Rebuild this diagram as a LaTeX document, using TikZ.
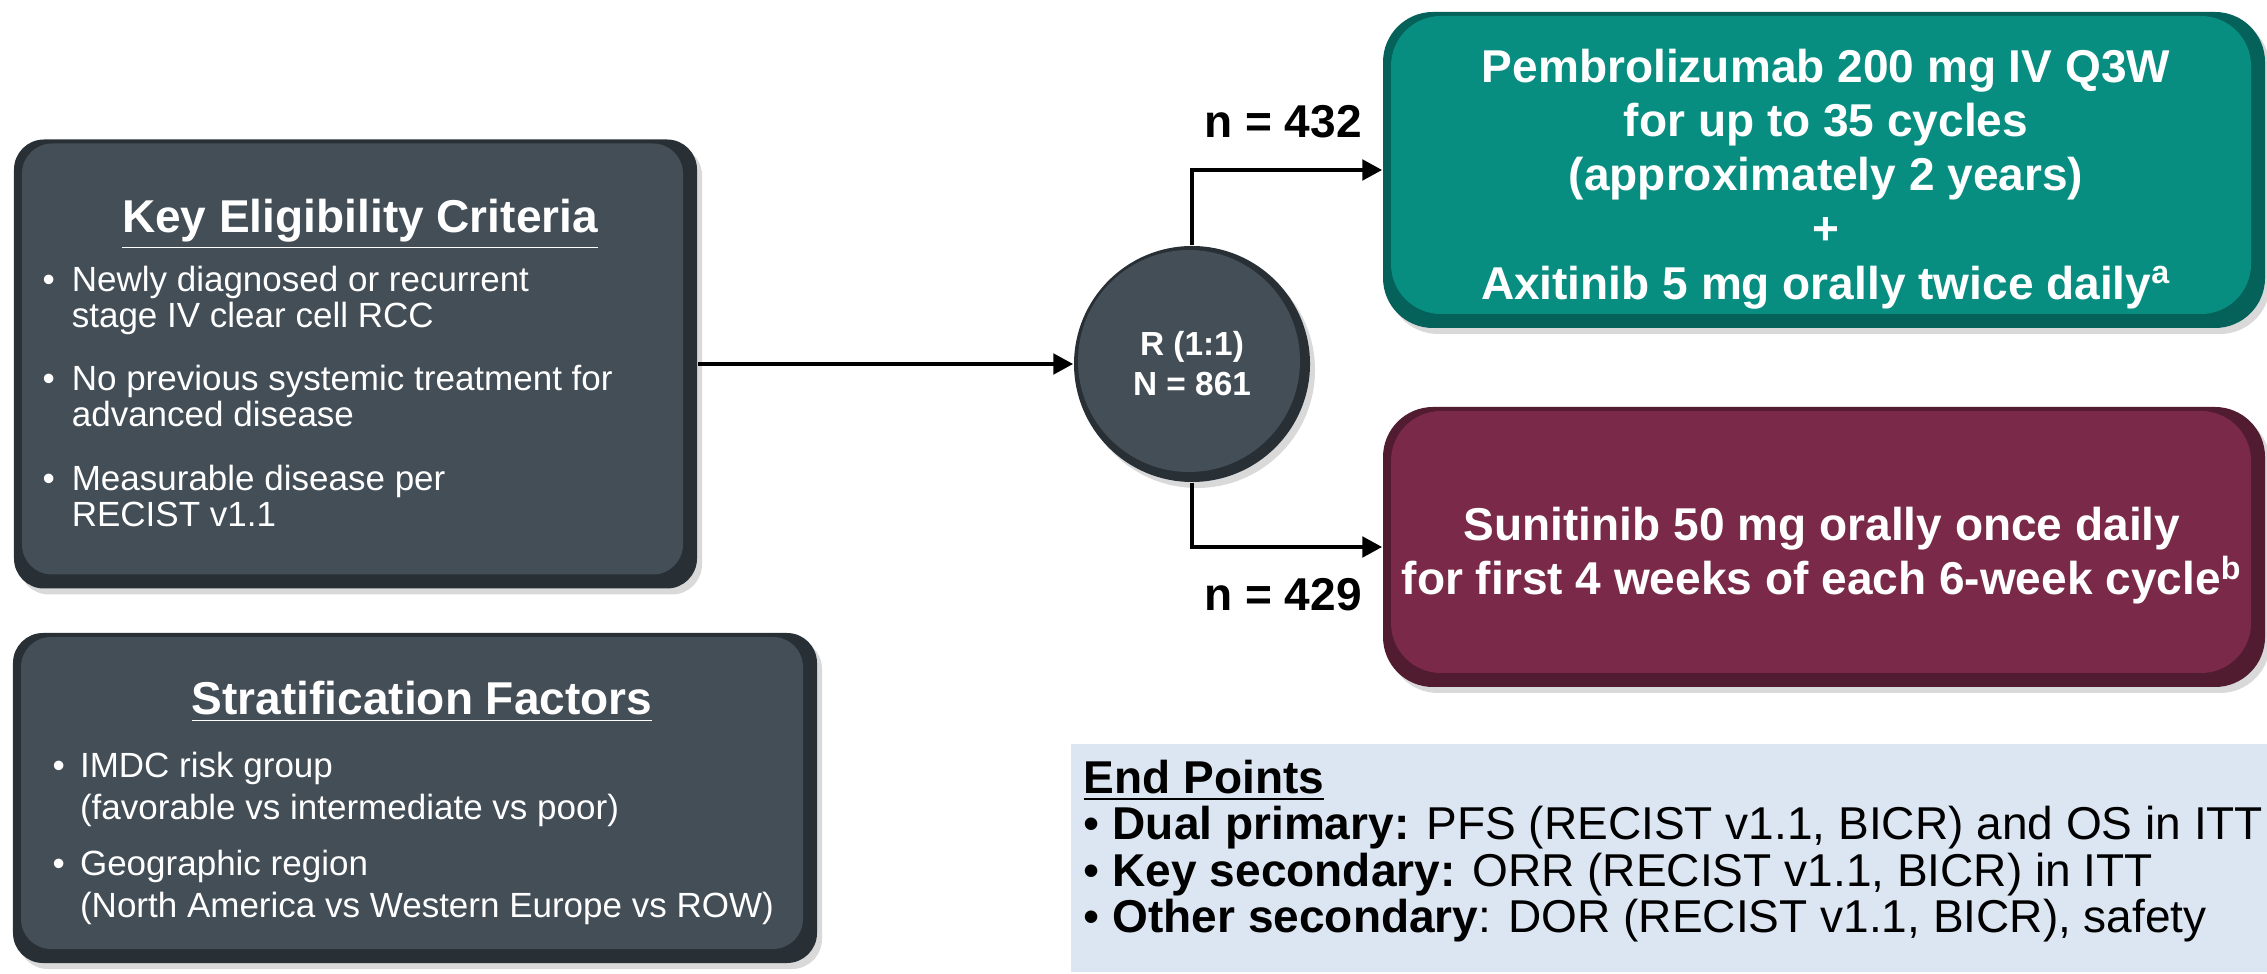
\documentclass[tikz,border=0pt]{standalone}
\usepackage{fontspec}
\setmainfont{Liberation Sans}
\usepackage{tikz}
\usetikzlibrary{arrows.meta,positioning,calc,shadows}
\definecolor{Slate}{HTML}{434E57}
\definecolor{SlateEdge}{HTML}{283036}
\definecolor{Teal}{HTML}{078E80}
\definecolor{TealEdge}{HTML}{05625A}
\definecolor{Wine}{HTML}{7A2A48}
\definecolor{WineEdge}{HTML}{511B30}
\definecolor{Ice}{HTML}{DCE6F2}

\begin{document}
\begin{tikzpicture}[>={Triangle[length=0.2cm,width=0.2cm]},
  panel/.style 2 args={rectangle,rounded corners=#2,fill=#1Edge,inner sep=0pt,
    drop shadow={opacity=0.3,shadow xshift=0.05cm,shadow yshift=-0.06cm},
    path picture={\fill[#1,rounded corners=#2] ([shift={(0.08,-0.04)}]path picture bounding box.north west)
      rectangle ([shift={(-0.14,0.14)}]path picture bounding box.south east);}},
  hub/.style={circle,fill=SlateEdge,minimum size=2.36cm,inner sep=0pt,text=white,align=center,
    font=\fontsize{9.5}{11.4}\selectfont\bfseries,
    drop shadow={opacity=0.3,shadow xshift=0.05cm,shadow yshift=-0.06cm},
    path picture={\fill[Slate] ([shift={(-0.03,0.03)}]path picture bounding box.center) circle (1.11cm);}},
  boxhead/.style={anchor=base,text=white,font=\fontsize{13.1}{15}\selectfont\bfseries},
  armtext/.style={text=white,align=center,inner sep=0pt,font=\fontsize{13.1}{15.4}\selectfont\bfseries},
  nlab/.style={font=\fontsize{13.1}{15}\selectfont\bfseries},
  flow/.style={->,line width=1.4pt}]
  \useasboundingbox (0,0) rectangle (22.67,9.73);

  % left panels
  \node[panel={Slate}{0.3cm},minimum width=6.83cm,minimum height=4.49cm] (elig) at (3.555,6.09) {};
  \node[boxhead] (eligT) at (3.60,7.40) {\underline{Key Eligibility Criteria}};
  \node[anchor=north west,inner sep=0pt,text=white,font=\fontsize{9.96}{10.2}\selectfont] (eligL) at (0.42,7.075) {%
    \begin{tabular}{@{}l@{\hspace{4.8pt}}l@{}}
    \textbullet & Newly diagnosed or recurrent\\
     & stage IV clear cell RCC\\[7.7pt]
    \textbullet & No previous systemic treatment for\\
     & advanced disease\\[7.7pt]
    \textbullet & Measurable disease per\\
     & RECIST v1.1
    \end{tabular}};

  \node[panel={Slate}{0.3cm},minimum width=8.04cm,minimum height=3.30cm] (strat) at (4.15,1.75) {};
  \node[boxhead] (stratT) at (4.22,2.58) {\underline{Stratification Factors}};
  \node[anchor=north west,inner sep=0pt,text=white,font=\fontsize{9.96}{11.95}\selectfont] (stratL) at (0.52,2.254) {%
    \begin{tabular}{@{}l@{\hspace{4.3pt}}l@{}}
    \textbullet & IMDC risk group\\
     & (favorable vs intermediate vs poor)\\[4pt]
    \textbullet & Geographic region\\
     & (North America vs Western Europe vs ROW)
    \end{tabular}};

  % randomisation and arms
  \node[hub] (rand) at (11.92,6.09) {R (1:1)\\N = 861};
  \node[panel={Teal}{0.5cm},minimum width=8.82cm,minimum height=3.16cm] (pembro) at (18.24,8.03) {};
  \node[armtext] (pembroT) at (18.26,7.94)
    {Pembrolizumab 200 mg IV Q3W\\for up to 35 cycles\\(approximately 2 years)\\+\\Axitinib 5 mg orally twice daily\textsuperscript{a}};
  \node[panel={Wine}{0.5cm},minimum width=8.82cm,minimum height=2.80cm] (suni) at (18.24,4.26) {};
  \node[armtext] (suniT) at (18.22,4.17)
    {Sunitinib 50 mg orally once daily\\for first 4 weeks of each 6-week cycle\textsuperscript{b}};

  \draw[flow] (elig) -- (rand);
  \draw[flow] (rand) |- (pembro);
  \draw[flow] (rand) |- (suni);
  \node[nlab] (nTop) at (12.83,8.51) {n = 432};
  \node[nlab] (nBot) at (12.83,3.78) {n = 429};

  % end points
  \node[fill=Ice,anchor=south west,inner sep=0pt,minimum width=11.97cm,minimum height=2.28cm] (ends) at (10.70,0) {};
  \node[anchor=north west,inner sep=0pt,align=left,font=\fontsize{13.1}{13.2}\selectfont] (endsT) at (10.83,2.135) {%
    \textbf{\underline{End Points}}\\
    \textbullet\ \textbf{Dual primary:} PFS (RECIST v1.1, BICR) and OS in ITT\\
    \textbullet\ \textbf{Key secondary:} ORR (RECIST v1.1, BICR) in ITT\\
    \textbullet\ \textbf{Other secondary}: DOR (RECIST v1.1, BICR), safety};
\end{tikzpicture}
\end{document}
